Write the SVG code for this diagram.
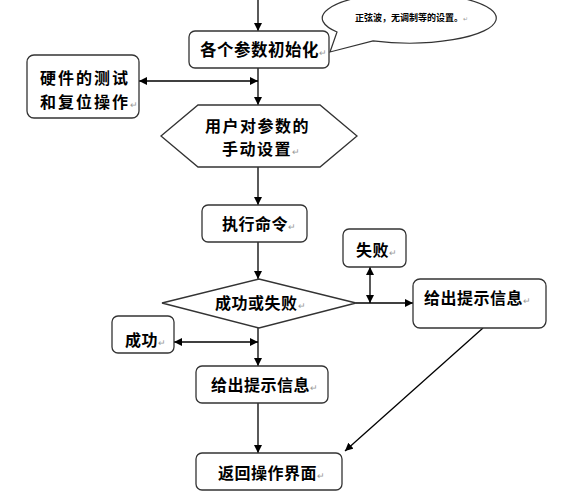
<svg xmlns="http://www.w3.org/2000/svg" width="584" height="491" viewBox="0 0 584 491">
<defs>
<marker id="ah" viewBox="0 0 10 10" refX="10" refY="5" markerWidth="8" markerHeight="8" markerUnits="userSpaceOnUse" orient="auto-start-reverse">
<path d="M0,0 L10,5 L0,10 z" fill="#000"/>
</marker>
<style>
.box{fill:#fff;stroke:#333;stroke-width:1.3}
.ln{fill:none;stroke:#000;stroke-width:1.3}
.t{font-family:"Noto Sans CJK SC","Noto Sans CJK JP",sans-serif;font-size:16px;font-weight:bold;fill:#000;letter-spacing:0.5px}
.pm{font-size:9px;font-weight:normal;fill:#999;letter-spacing:0}
</style>
</defs>
<rect width="584" height="491" fill="#fff"/>
<g id="connectors">
<line class="ln" x1="258" y1="0" x2="258" y2="31" marker-end="url(#ah)"/>
<line class="ln" x1="258" y1="68" x2="258" y2="105" marker-end="url(#ah)"/>
<line class="ln" x1="139" y1="81" x2="258" y2="81" marker-start="url(#ah)" marker-end="url(#ah)"/>
<line class="ln" x1="258" y1="167" x2="258" y2="205" marker-end="url(#ah)"/>
<line class="ln" x1="258" y1="242" x2="258" y2="279" marker-end="url(#ah)"/>
<line class="ln" x1="356" y1="303" x2="413" y2="303" marker-end="url(#ah)"/>
<line class="ln" x1="370" y1="267" x2="370" y2="303" marker-start="url(#ah)" marker-end="url(#ah)"/>
<line class="ln" x1="258" y1="328" x2="258" y2="366" marker-end="url(#ah)"/>
<line class="ln" x1="174" y1="342" x2="258" y2="342" marker-start="url(#ah)" marker-end="url(#ah)"/>
<line class="ln" x1="258" y1="403" x2="258" y2="453" marker-end="url(#ah)"/>
<line class="ln" x1="483" y1="328" x2="345" y2="451" stroke-width="1" marker-end="url(#ah)"/>
</g>
<g id="callout">
<path d="M337,32 A87,25 0 1 1 373,40.8 L330,52 Z" fill="#fff" stroke="#333" stroke-width="1.2"/>
<text class="t" x="355" y="21" style="font-size:9px;letter-spacing:0">正弦波，无调制等的设置。<tspan class="pm" style="font-size:6px">↵</tspan></text>
</g>
<g id="init">
<rect class="box" x="189" y="31" width="140" height="37" rx="6"/>
<text class="t" x="200" y="56" style="font-size:16.5px">各个参数初始化<tspan class="pm">↵</tspan></text>
</g>
<g id="hardware">
<rect class="box" x="27" y="55" width="112" height="63" rx="7"/>
<text class="t" x="40" y="84" style="letter-spacing:2px">硬件的测试</text>
<text class="t" x="40" y="108" style="letter-spacing:2px">和复位操作<tspan class="pm">↵</tspan></text>
</g>
<g id="manual">
<polygon class="box" points="161,136 198,105 320,105 357,136 320,167 198,167"/>
<text class="t" x="205" y="132" style="letter-spacing:1.5px">用户对参数的</text>
<text class="t" x="222" y="155" style="letter-spacing:1.5px">手动设置<tspan class="pm">↵</tspan></text>
</g>
<g id="exec">
<rect class="box" x="202" y="205" width="105" height="37" rx="6"/>
<text class="t" x="222" y="230">执行命令<tspan class="pm">↵</tspan></text>
</g>
<g id="decision">
<polygon class="box" points="162,303 259,279 356,303 259,328"/>
<text class="t" x="215" y="309">成功或失败<tspan class="pm">↵</tspan></text>
</g>
<g id="fail">
<rect class="box" x="343" y="229" width="63" height="38" rx="6"/>
<text class="t" x="356" y="256">失败<tspan class="pm">↵</tspan></text>
</g>
<g id="msg-right">
<rect class="box" x="413" y="279" width="133" height="49" rx="7"/>
<text class="t" x="424" y="304">给出提示信息<tspan class="pm">↵</tspan></text>
</g>
<g id="success">
<rect class="box" x="112" y="316" width="62" height="37" rx="6"/>
<text class="t" x="125" y="346">成功<tspan class="pm">↵</tspan></text>
</g>
<g id="msg">
<rect class="box" x="196" y="366" width="132" height="37" rx="6"/>
<text class="t" x="211" y="391">给出提示信息<tspan class="pm">↵</tspan></text>
</g>
<g id="return">
<rect class="box" x="196" y="453" width="146" height="37" rx="6"/>
<text class="t" x="218" y="479">返回操作界面<tspan class="pm">↵</tspan></text>
</g>
</svg>
